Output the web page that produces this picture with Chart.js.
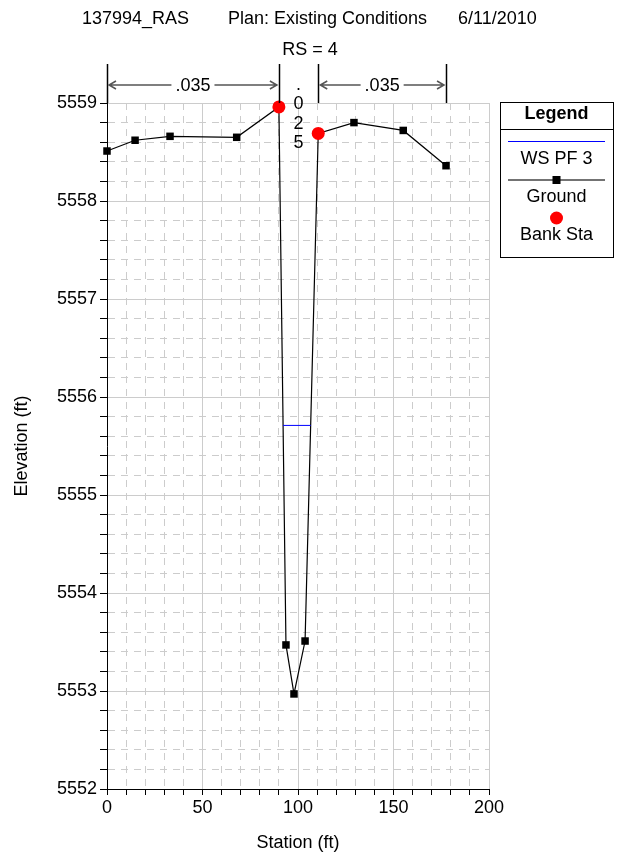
<!DOCTYPE html>
<html lang="en">
<head>
<meta charset="UTF-8">
<title>137994_RAS RS = 4</title>
<script src="https://cdn.jsdelivr.net/npm/chart.js"></script>
<style>
  body { margin: 0; background: #fff; }
  canvas { display: block; }
</style>
</head>
<body>
<canvas id="xsChart" width="621" height="861"></canvas>
<script>
// cross section RS = 4, station / elevation in ft
const groundStation = [0, 14.7, 33, 67.9, 90, 93.7, 97.9, 103.7, 110.6, 129.3, 155.1, 177.5];
const groundElev = [5558.51, 5558.62, 5558.66, 5558.65, 5558.96, 5553.47, 5552.97, 5553.51, 5558.69, 5558.80, 5558.72, 5558.36];
const bankStation = [90, 110.6];
const bankElev = [5558.96, 5558.69];
const wsStation = [92.2, 106.7];
const wsElev = [5555.71, 5555.71];

// manning's n breaks and values
const nBreaks = [0, 90, 110.6, 177.5];
const nValues = ['.035', '.025', '.035'];

const xRange = [0, 200];
const yRange = [5552, 5559];

const FONT = '"Liberation Sans", Arial, sans-serif';

function toPts(xs, ys) {
  return xs.map((x, i) => ({ x: x, y: ys[i] }));
}

function isWhole(v, step) {
  const r = v / step;
  return Math.abs(r - Math.round(r)) < 1e-6;
}

// titles, n value brackets and legend box
const extras = {
  id: 'extras',
  afterDraw(chart) {
    const ctx = chart.ctx;
    const xs = chart.scales.x;
    const top = chart.chartArea.top;
    ctx.save();
    ctx.fillStyle = '#000';
    ctx.font = '18px ' + FONT;
    ctx.textBaseline = 'middle';
    ctx.textAlign = 'left';
    ctx.fillText('137994_RAS', 82, 19);
    ctx.fillText('Plan: Existing Conditions', 228, 19);
    ctx.fillText('6/11/2010', 458, 19);
    ctx.textAlign = 'center';
    ctx.fillText('RS = 4', 310, 50);

    // bracket lines
    ctx.strokeStyle = '#000';
    ctx.lineWidth = 1.5;
    nBreaks.forEach(s => {
      const px = Math.round(xs.getPixelForValue(s)) + 0.5;
      ctx.beginPath();
      ctx.moveTo(px, 64);
      ctx.lineTo(px, top);
      ctx.stroke();
    });

    const ay = 85;
    for (let i = 0; i < nValues.length; i++) {
      const a = xs.getPixelForValue(nBreaks[i]);
      const b = xs.getPixelForValue(nBreaks[i + 1]);
      const mid = (a + b) / 2;
      if (b - a > 60) {
        const tw = ctx.measureText(nValues[i]).width / 2 + 4;
        ctx.strokeStyle = '#555';
        ctx.lineWidth = 1.5;
        ctx.beginPath();
        ctx.moveTo(a + 2, ay); ctx.lineTo(mid - tw, ay);
        ctx.moveTo(mid + tw, ay); ctx.lineTo(b - 2, ay);
        // arrow heads
        ctx.moveTo(a + 9, ay - 4); ctx.lineTo(a + 2, ay); ctx.lineTo(a + 9, ay + 4);
        ctx.moveTo(b - 9, ay - 4); ctx.lineTo(b - 2, ay); ctx.lineTo(b - 9, ay + 4);
        ctx.stroke();
        ctx.fillText(nValues[i], mid, ay + 1);
      } else {
        // narrow channel: write the value downwards
        const chars = nValues[i].split('');
        chars.forEach((c, k) => ctx.fillText(c, mid, 85 + k * 19.5));
      }
    }

    // legend
    const lx = 500, ly = 102, lw = 113, lh = 155;
    const cx = lx + lw / 2;
    ctx.fillStyle = '#fff';
    ctx.fillRect(lx, ly, lw, lh);
    ctx.strokeStyle = '#000';
    ctx.lineWidth = 1;
    ctx.strokeRect(lx + 0.5, ly + 0.5, lw, lh);
    ctx.beginPath();
    ctx.moveTo(lx, ly + 27.5); ctx.lineTo(lx + lw, ly + 27.5);
    ctx.stroke();
    ctx.fillStyle = '#000';
    ctx.font = 'bold 18px ' + FONT;
    ctx.fillText('Legend', cx, ly + 12);
    ctx.font = '18px ' + FONT;
    ctx.strokeStyle = '#0000ff';
    ctx.beginPath();
    ctx.moveTo(lx + 8, 141.5); ctx.lineTo(lx + lw - 8, 141.5);
    ctx.stroke();
    ctx.fillText('WS PF 3', cx, 159);
    ctx.strokeStyle = '#444';
    ctx.lineWidth = 1.5;
    ctx.beginPath();
    ctx.moveTo(lx + 8, 180); ctx.lineTo(lx + lw - 8, 180);
    ctx.stroke();
    ctx.fillRect(cx - 4, 176, 8, 8);
    ctx.fillText('Ground', cx, 197);
    ctx.fillStyle = '#ff0000';
    ctx.beginPath();
    ctx.arc(cx, 218, 6.5, 0, Math.PI * 2);
    ctx.fill();
    ctx.fillStyle = '#000';
    ctx.fillText('Bank Sta', cx, 235);
    ctx.restore();
  }
};

const gridColor = 'rgb(204,204,204)';

new Chart(document.getElementById('xsChart'), {
  type: 'scatter',
  data: {
    datasets: [
      {
        label: 'Bank Sta',
        data: toPts(bankStation, bankElev),
        showLine: false,
        pointStyle: 'circle',
        pointRadius: 6.5,
        backgroundColor: '#ff0000',
        borderColor: '#ff0000',
        borderWidth: 0,
        clip: false,
        order: 0
      },
      {
        label: 'WS PF 3',
        data: toPts(wsStation, wsElev),
        showLine: true,
        borderColor: '#0000ff',
        borderWidth: 1,
        pointRadius: 0,
        clip: false,
        order: 1
      },
      {
        label: 'Ground',
        data: toPts(groundStation, groundElev),
        showLine: true,
        borderColor: '#000',
        borderWidth: 1.2,
        pointStyle: 'rect',
        pointRadius: 5.3,
        backgroundColor: '#000',
        pointBorderWidth: 0,
        clip: false,
        order: 2
      }
    ]
  },
  options: {
    responsive: false,
    animation: false,
    events: [],
    layout: { padding: { left: 0, right: 132, top: 103, bottom: 0 } },
    plugins: {
      legend: { display: false },
      tooltip: { enabled: false }
    },
    scales: {
      x: {
        type: 'linear',
        min: xRange[0],
        max: xRange[1],
        afterFit(s) { s.height = 72; },
        ticks: {
          stepSize: 10,
          autoSkip: false,
          maxRotation: 0,
          padding: 2,
          color: '#000',
          font: { size: 18, family: FONT },
          callback: v => isWhole(v, 50) ? String(Math.round(v)) : ''
        },
        grid: {
          color: gridColor,
          lineWidth: 1,
          tickColor: '#000',
          tickLength: 6
        },
        border: {
          color: '#000',
          width: 1,
          dash: c => (c.tick && !isWhole(c.tick.value, 50)) ? [7, 6] : []
        },
        title: {
          display: true,
          text: 'Station (ft)',
          color: '#000',
          font: { size: 18, family: FONT },
          padding: { top: 0, bottom: 7 }
        }
      },
      y: {
        type: 'linear',
        min: yRange[0],
        max: yRange[1],
        afterFit(s) { s.width = 107; },
        ticks: {
          stepSize: 0.2,
          autoSkip: false,
          padding: 3,
          color: '#000',
          font: { size: 18, family: FONT },
          callback: v => isWhole(v, 1) ? String(Math.round(v)) : ''
        },
        grid: {
          color: gridColor,
          lineWidth: 1,
          tickColor: '#000',
          tickLength: 7
        },
        border: {
          color: '#000',
          width: 1,
          dash: c => (c.tick && !isWhole(c.tick.value, 1)) ? [7, 6] : []
        },
        title: {
          display: true,
          text: 'Elevation (ft)',
          color: '#000',
          font: { size: 18, family: FONT },
          padding: { top: 11, bottom: 0 }
        }
      }
    }
  },
  plugins: [extras]
});
</script>
</body>
</html>
